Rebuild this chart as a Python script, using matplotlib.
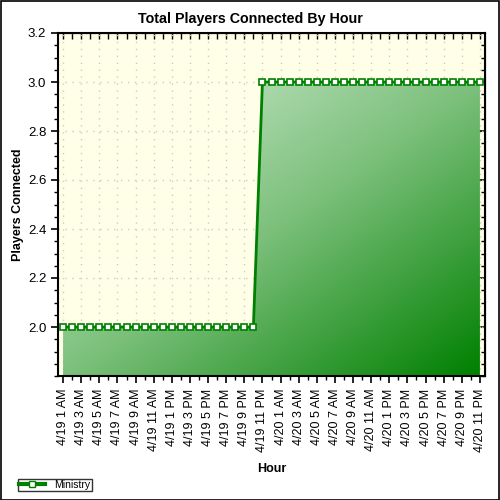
import matplotlib
matplotlib.use('Agg')
import matplotlib.pyplot as plt
import numpy as np
from matplotlib.colors import LinearSegmentedColormap
from matplotlib.ticker import MultipleLocator, FixedLocator
from matplotlib.lines import Line2D

plt.rcParams['font.family'] = ['Liberation Sans', 'DejaVu Sans']

# hourly samples, 4/19 1 AM .. 4/20 11 PM
players = [2, 2, 2, 2, 2, 2, 2, 2, 2, 2, 2, 2, 2, 2, 2, 2, 2, 2, 2, 2, 2, 2,
           3, 3, 3, 3, 3, 3, 3, 3, 3, 3, 3, 3, 3, 3, 3, 3, 3, 3, 3, 3, 3, 3,
           3, 3, 3]
# labels shown every second hour
hour_labels = ['4/19 1 AM', '4/19 3 AM', '4/19 5 AM', '4/19 7 AM', '4/19 9 AM',
               '4/19 11 AM', '4/19 1 PM', '4/19 3 PM', '4/19 5 PM', '4/19 7 PM',
               '4/19 9 PM', '4/19 11 PM', '4/20 1 AM', '4/20 3 AM', '4/20 5 AM',
               '4/20 7 AM', '4/20 9 AM', '4/20 11 AM', '4/20 1 PM', '4/20 3 PM',
               '4/20 5 PM', '4/20 7 PM', '4/20 9 PM', '4/20 11 PM']
y_ticks = [2.0, 2.2, 2.4, 2.6, 2.8, 3.0, 3.2]
series_name = 'Ministry'

green = '#008000'
x = np.arange(len(players))
y = np.array(players, dtype=float)

fig = plt.figure(figsize=(5, 5), dpi=100)
fig.patch.set_facecolor('white')
fig.patches.append(plt.Rectangle((0.001, 0.001), 0.997, 0.997, transform=fig.transFigure,
                                 fill=False, edgecolor='black', linewidth=1.2))

ax = fig.add_axes([0.116, 0.248, 0.854, 0.686])
ax.set_facecolor('#fffee6')
ymin, ymax = 1.8, 3.2
xlim = (-0.56, len(players) - 1 + 0.56)
ax.set_xlim(*xlim)
ax.set_ylim(ymin, ymax)

# gradient fill under the line
fill = ax.fill_between(x, y, ymin, facecolor='none', edgecolor='none')
cmap = LinearSegmentedColormap.from_list('g', ['#d8eed8', '#7cc07c', green])
gx, gy = np.meshgrid(np.linspace(0, 1, 200), np.linspace(0, 1, 200))
grad = (gx + gy) / 2
img = ax.imshow(grad, cmap=cmap, aspect='auto', origin='upper',
                extent=[x[0], x[-1], ymin, y.max()], zorder=1)
img.set_clip_path(fill.get_paths()[0], transform=ax.transData)

ax.plot(x, y, color=green, linewidth=2, marker='s', markersize=5,
        markerfacecolor='white', markeredgecolor=green, markeredgewidth=1.2,
        zorder=3, clip_on=False)

ax.set_xticks(x[::2])
ax.set_xticklabels(hour_labels, rotation=90, fontsize=9)
ax.xaxis.set_minor_locator(FixedLocator(x[1::2]))
ax.yaxis.set_major_locator(FixedLocator(y_ticks))
ax.yaxis.set_minor_locator(MultipleLocator(0.05))
ax.set_yticklabels(['%.1f' % v for v in y_ticks], fontsize=9.5)

ax.tick_params(axis='both', which='major', length=5, width=1.2, direction='out')
ax.tick_params(axis='both', which='minor', length=3, width=1, direction='out')
ax.tick_params(axis='x', which='major', pad=4)

# inward ticks on top and right edges
top = ax.secondary_xaxis('top')
top.xaxis.set_major_locator(MultipleLocator(1))
top.tick_params(direction='in', length=4, width=1, labeltop=False)
right = ax.secondary_yaxis('right')
right.yaxis.set_major_locator(FixedLocator(y_ticks))
right.yaxis.set_minor_locator(MultipleLocator(0.05))
right.tick_params(which='major', direction='in', length=5, width=1.2, labelright=False)
right.tick_params(which='minor', direction='in', length=3, width=1)

ax.grid(True, which='major', color='#cccccc', linestyle=(0, (1, 4)), linewidth=1)
ax.set_axisbelow(True)
for s in ax.spines.values():
    s.set_linewidth(1.5)

fig.suptitle('Total Players Connected By Hour', fontsize=10.3, fontweight='bold', y=0.976)
ax.set_ylabel('Players Connected', fontsize=9, fontweight='bold')
ax.yaxis.set_label_coords(-0.079, 0.5)
ax.set_xlabel('Hour', fontsize=9, fontweight='bold', labelpad=8)

handle = Line2D([], [], color=green, linewidth=3, marker='s', markersize=5,
                markerfacecolor='white', markeredgecolor=green)
leg = fig.legend([handle], [series_name], loc='lower left', bbox_to_anchor=(0.036, 0.018),
                 fontsize=7.5, frameon=True, fancybox=False, edgecolor='black',
                 borderpad=0.1, handlelength=2.5, handletextpad=0.9, borderaxespad=0)
leg.get_frame().set_linewidth(1)

fig.savefig('out.png', dpi=100)
